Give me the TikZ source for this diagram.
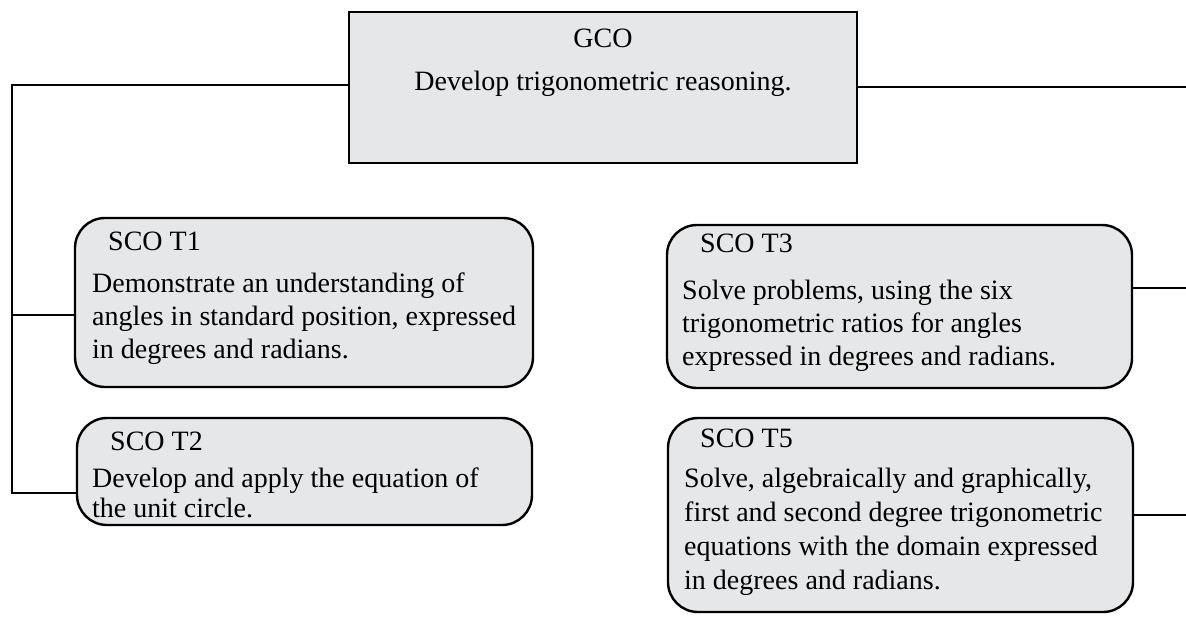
\documentclass[tikz,border=0pt]{standalone}
\usepackage{fontspec}
\setmainfont{Liberation Serif}
\begin{document}
\begin{tikzpicture}[x=1pt,y=-1pt,
  boxline/.style={draw=black,line width=2.4pt,fill=boxgray},
  gcobox/.style={boxline,rectangle,inner sep=0pt},
  scobox/.style={boxline,rectangle,rounded corners=30pt,inner sep=0pt},
  txt/.style={anchor=base west,inner sep=0pt,align=left,font=\fontsize{28}{33}\selectfont},
  ctxt/.style={anchor=base,inner sep=0pt,font=\fontsize{28}{33}\selectfont},
  link/.style={draw=black,line width=2.4pt}]
\definecolor{boxgray}{HTML}{E6E7E8}
\useasboundingbox (0,0) rectangle (1186,622);
% boxes
\node[gcobox,minimum width=508pt,minimum height=151pt] (gco) at (603,87.5) {};
\node[scobox,minimum width=458pt,minimum height=169pt] (t1) at (304,302.5) {};
\node[scobox,minimum width=455pt,minimum height=107pt] (t2) at (304.5,471.5) {};
\node[scobox,minimum width=465pt,minimum height=163pt] (t3) at (899.5,306.5) {};
\node[scobox,minimum width=465pt,minimum height=194pt] (t5) at (900.5,515) {};
% texts (multi-line nodes: base = baseline of last line)
\node[ctxt] (gcot) at (603,47) {GCO};
\node[ctxt] (gcob) at (603,90) {Develop trigonometric reasoning.};
\node[txt] (t1t) at (108,250) {SCO T1};
\node[txt] (t1b) at (92,358) {Demonstrate an understanding of\\angles in standard position, expressed\\in degrees and radians.};
\node[txt] (t2t) at (110,450) {SCO T2};
\node[txt,font=\fontsize{28}{30}\selectfont] (t2b) at (92,517) {Develop and apply the equation of\\the unit circle.};
\node[txt] (t3t) at (700,252) {SCO T3};
\node[txt] (t3b) at (682,365) {Solve problems, using the six\\trigonometric ratios for angles\\expressed in degrees and radians.};
\node[txt] (t5t) at (700,447) {SCO T5};
\node[txt,font=\fontsize{28}{34}\selectfont] (t5b) at (684,589) {Solve, algebraically and graphically,\\first and second degree trigonometric\\equations with the domain expressed\\in degrees and radians.};
% connectors
\coordinate (ltop) at (12,85);
\coordinate (l1) at (12,315);
\coordinate (lbot) at (12,493);
\coordinate (rtop) at (1186,87);
\coordinate (r3) at (1186,288);
\coordinate (r5) at (1186,515);
\draw[link] (gco.west |- ltop) -- (ltop) -- (lbot) -- (lbot -| t2.west);
\draw[link] (l1) -- (l1 -| t1.west);
\draw[link] (gco.east |- rtop) -- (rtop);
\draw[link] (r3 -| t3.east) -- (r3);
\draw[link] (r5 -| t5.east) -- (r5);
\end{tikzpicture}
\end{document}
